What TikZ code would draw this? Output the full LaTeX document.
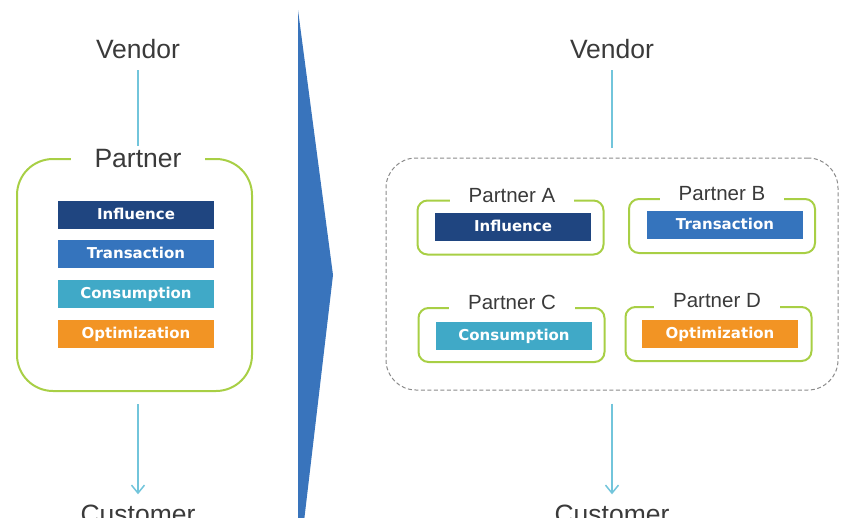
\documentclass[tikz,border=0pt]{standalone}
\usepackage{fontspec}
\setmainfont{Liberation Sans}
\newfontfamily\barfont{DejaVu Sans}
\usepackage{tikz}
\usetikzlibrary{arrows.meta}
\definecolor{influenceblue}{HTML}{1F4580}
\definecolor{transactionblue}{HTML}{3574BD}
\definecolor{consumptionteal}{HTML}{40A9C7}
\definecolor{optimizationorange}{HTML}{F29424}
\definecolor{partnergreen}{HTML}{A8CF45}
\definecolor{linkblue}{HTML}{72C5DB}
\definecolor{chevronblue}{HTML}{3974BC}
\definecolor{labelgray}{HTML}{3A3A3A}
\definecolor{groupgray}{HTML}{8A8A8A}
\tikzset{%
  every role/.style={
    text=labelgray,
    inner sep=0pt,
    anchor=base
  },
  role big/.style={
    every role,
    font=\fontsize{26.5}{30}\selectfont
  },
  role small/.style={
    every role,
    font=\fontsize{20.5}{24}\selectfont,
    fill=white,
    inner xsep=19pt,
    inner ysep=3pt
  },
  every bar/.style={
    minimum width=156pt,
    minimum height=28pt,
    inner sep=0pt,
    text=white,
    font=\barfont\bfseries\fontsize{15}{18}\selectfont,
    text height=11pt,
    text depth=3pt
  },
  partner frame/.style={
    draw=partnergreen,
    line width=2pt,
    rounded corners=10pt,
    minimum width=186pt,
    minimum height=54pt
  },
  link/.style={
    draw=linkblue,
    line width=1.5pt
  },
}

\begin{document}
\begin{tikzpicture}[x=1pt, y=-1pt, >={Straight Barb[length=8pt,width=13pt]}]
\useasboundingbox (0,0) rectangle (841,517);
% chevron between the two layouts
\fill[chevronblue] (298,10) -- (333,275) -- (303,530) -- (298,530) -- cycle;

% left: a single partner
\node[role big] (vendor_l) at (138,58) {Vendor};
\node[partner frame, rounded corners=36pt, minimum width=235pt, minimum height=232pt] (frame_l) at (134.5,275) {};
\node[role big, fill=white, inner xsep=24pt, inner ysep=3pt] (partner_l) at (138,167) {Partner};
\foreach \y/\col/\name in {215/influenceblue/Influence, 254/transactionblue/Transaction, 294/consumptionteal/Consumption, 334/optimizationorange/Optimization}
    \node[every bar, fill=\col] (bar_l_\name) at (136,\y) {\name};
\node[role big] (customer_l) at (138,523) {Customer};
\draw[link, shorten <=12pt] (vendor_l) -- (partner_l);
\draw[link, ->, shorten <=12pt, shorten >=10pt] (frame_l.south -| customer_l) -- (customer_l);

% right: four partners
\node[role big] (vendor_r) at (612,58) {Vendor};
\node[draw=groupgray, line width=1pt, dash pattern=on 4pt off 2.5pt, rounded corners=30pt, minimum width=452pt, minimum height=232pt] (group_r) at (612,274) {};
\foreach \id/\fx/\fy/\lx/\ly/\bx/\by/\col/\name in {A/510.5/227.5/512/202/513/227/influenceblue/Influence, B/722/226/722/200/725/225/transactionblue/Transaction, C/511.5/335/512/309/514/336/consumptionteal/Consumption, D/718.5/334/717/307/720/334/optimizationorange/Optimization}
    {\node[partner frame] (frame_\id) at (\fx,\fy) {};
    \node[role small] (partner_\id) at (\lx,\ly) {Partner \id};
    \node[every bar, fill=\col] (bar_\id) at (\bx,\by) {\name};}
\node[role big] (customer_r) at (612,523) {Customer};
\draw[link, shorten <=12pt, shorten >=10pt] (vendor_r) -- (group_r);
\draw[link, ->, shorten <=13pt, shorten >=10pt] (group_r) -- (customer_r);
\end{tikzpicture}
\end{document}
